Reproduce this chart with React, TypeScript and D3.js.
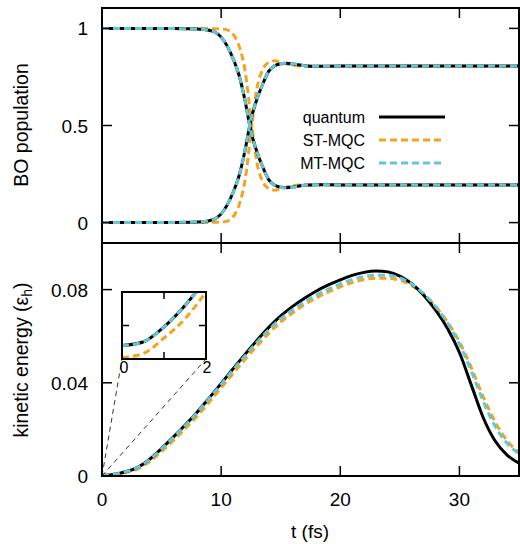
import React from "react";
import * as d3 from "d3";

// ---- Data ----
const popT = [0, 6, 8, 9, 9.5, 10, 10.5, 11, 11.5, 12, 12.5, 13, 13.5, 14, 14.5, 15, 15.5, 16, 17, 18, 20, 25, 30, 35];
const popQuantum = [0, 0.001, 0.003, 0.01, 0.02, 0.045, 0.09, 0.155, 0.24, 0.37, 0.53, 0.635, 0.715, 0.78, 0.808, 0.818, 0.82, 0.817, 0.808, 0.805, 0.806, 0.806, 0.806, 0.806];
const popMT = [0, 0.001, 0.003, 0.01, 0.02, 0.045, 0.09, 0.155, 0.24, 0.37, 0.53, 0.635, 0.715, 0.78, 0.809, 0.819, 0.821, 0.818, 0.808, 0.805, 0.806, 0.806, 0.806, 0.806];
const popST = [0, 0, 0.001, 0.001, 0.002, 0.003, 0.008, 0.03, 0.09, 0.215, 0.46, 0.69, 0.79, 0.825, 0.833, 0.826, 0.816, 0.81, 0.806, 0.805, 0.805, 0.805, 0.805, 0.805];

const keT = [0, 0.5, 1, 1.5, 2, 3, 4, 5, 6, 7, 8, 9, 10, 11, 12, 13, 14, 15, 16, 17, 18, 19, 20, 21, 22, 23, 24, 25, 26, 27, 28, 29, 30, 31, 32, 33, 34, 35];
const keQuantum = [0.0003, 0.00038, 0.00072, 0.0012, 0.0018, 0.0037, 0.0072, 0.0118, 0.0168, 0.022, 0.0275, 0.0335, 0.0397, 0.046, 0.0522, 0.0582, 0.0638, 0.0687, 0.0728, 0.0763, 0.0794, 0.082, 0.0842, 0.0861, 0.0874, 0.088, 0.0876, 0.0858, 0.0825, 0.0776, 0.0712, 0.0633, 0.053, 0.039, 0.025, 0.015, 0.009, 0.0055];
const keMT = [0.0003, 0.00038, 0.00072, 0.0012, 0.0018, 0.0037, 0.0071, 0.0116, 0.0166, 0.0218, 0.0273, 0.0333, 0.0394, 0.0456, 0.0516, 0.0574, 0.0628, 0.0675, 0.0713, 0.0747, 0.0777, 0.0802, 0.0825, 0.0843, 0.0856, 0.0862, 0.0861, 0.085, 0.0824, 0.0783, 0.0727, 0.0656, 0.0566, 0.045, 0.032, 0.0213, 0.014, 0.0095];
const keST = [0.00003, 0.00012, 0.00047, 0.0009, 0.0015, 0.003, 0.0062, 0.0105, 0.0153, 0.0204, 0.0258, 0.0317, 0.0378, 0.044, 0.05, 0.0558, 0.0612, 0.066, 0.07, 0.0735, 0.0765, 0.079, 0.0812, 0.083, 0.0843, 0.0849, 0.0849, 0.084, 0.0817, 0.078, 0.0728, 0.0661, 0.0576, 0.0465, 0.034, 0.0232, 0.0152, 0.01];

const xTicks = [0, 10, 20, 30];
const popTicks = [0, 0.5, 1];
const popTickLabels = ["0", "0.5", "1"];
const keTicks = [0, 0.04, 0.08];
const keTickLabels = ["0", "0.04", "0.08"];
const insetXTicks = [0, 1, 2];
const insetXLabels = ["0", "", "2"];
const legendLabels = ["quantum", "ST-MQC", "MT-MQC"];

const BLACK = "#000000";
const ORANGE = "#f5a31e";
const CYAN = "#62c8d8";
const FONT = "'Liberation Sans', Arial, Helvetica, sans-serif";

export default function App() {
  const L = 102, R = 519, T1 = 8, B1 = 243, B2 = 476;
  const x = d3.scaleLinear().domain([0, 35]).range([L, R]);
  const yTop = d3.scaleLinear().domain([-0.105, 1.105]).range([B1, T1]);
  const yBot = d3.scaleLinear().domain([0, 0.1]).range([B2, B1]);
  const xi = d3.scaleLinear().domain([0, 2]).range([122, 206]);
  const yi = d3.scaleLinear().domain([0, 0.0015]).range([359, 292]);

  const mk = (xs: d3.ScaleLinear<number, number>, ys: d3.ScaleLinear<number, number>, ts: number[], vs: number[]) =>
    d3.line<number>().x((_, i) => xs(ts[i])).y((v) => ys(v)).curve(d3.curveMonotoneX)(vs) || "";

  const popSeries = [
    { vals: popST, color: ORANGE, dash: "7,4" },
    { vals: popQuantum, color: BLACK, dash: null },
    { vals: popMT, color: CYAN, dash: "7,4" },
  ];
  const keSeries = [
    { vals: keST, color: ORANGE, dash: "7,4" },
    { vals: keQuantum, color: BLACK, dash: null },
    { vals: keMT, color: CYAN, dash: "7,4" },
  ];
  const legendColors = [BLACK, ORANGE, CYAN];
  const legendDash = [null, "7,4", "7,4"];
  const tl = 10;
  const fs = 19;

  return (
    <svg width={520} height={544} style={{ position: "absolute", left: 0, top: 0, background: "#fff" }} fontFamily={FONT}>
      <defs>
        <clipPath id="c1"><rect x={L} y={T1} width={R - L} height={B1 - T1} /></clipPath>
        <clipPath id="c2"><rect x={L} y={B1} width={R - L} height={B2 - B1} /></clipPath>
        <clipPath id="ci"><rect x={122} y={292} width={84} height={67} /></clipPath>
      </defs>

      {/* top panel curves */}
      <g clipPath="url(#c1)">
        {popSeries.map((s, k) => (
          <g key={k}>
            <path d={mk(x, yTop, popT, s.vals)} fill="none" stroke={s.color} strokeWidth={3} strokeDasharray={s.dash || undefined} />
            <path d={mk(x, yTop, popT, s.vals.map((v) => 1 - v))} fill="none" stroke={s.color} strokeWidth={3} strokeDasharray={s.dash || undefined} />
          </g>
        ))}
      </g>

      {/* bottom panel curves */}
      <g clipPath="url(#c2)">
        {keSeries.map((s, k) => (
          <path key={k} d={mk(x, yBot, keT, s.vals)} fill="none" stroke={s.color} strokeWidth={3} strokeDasharray={s.dash || undefined} />
        ))}
      </g>

      {/* frames */}
      <rect x={L} y={T1} width={R - L} height={B1 - T1} fill="none" stroke="#000" strokeWidth={2} />
      <rect x={L} y={B1} width={R - L} height={B2 - B1} fill="none" stroke="#000" strokeWidth={2} />

      {/* x ticks */}
      {xTicks.filter((t) => t > 0).map((t) => (
        <g key={t} stroke="#000" strokeWidth={1.5}>
          <line x1={x(t)} x2={x(t)} y1={T1} y2={T1 + tl} />
          <line x1={x(t)} x2={x(t)} y1={B1} y2={B1 - tl} />
          <line x1={x(t)} x2={x(t)} y1={B1} y2={B1 + tl} />
          <line x1={x(t)} x2={x(t)} y1={B2} y2={B2 - tl} />
        </g>
      ))}
      {xTicks.map((t) => (
        <text key={t} x={x(t)} y={506} fontSize={fs} textAnchor="middle">{t}</text>
      ))}

      {/* top y ticks */}
      {popTicks.map((v, i) => (
        <g key={v}>
          <line x1={L} x2={L + tl} y1={yTop(v)} y2={yTop(v)} stroke="#000" strokeWidth={1.5} />
          <line x1={R} x2={R - tl} y1={yTop(v)} y2={yTop(v)} stroke="#000" strokeWidth={1.5} />
          <text x={88} y={yTop(v) + 7} fontSize={fs} textAnchor="end">{popTickLabels[i]}</text>
        </g>
      ))}
      {/* bottom y ticks */}
      {keTicks.map((v, i) => (
        <g key={v}>
          {v > 0 && <line x1={L} x2={L + tl} y1={yBot(v)} y2={yBot(v)} stroke="#000" strokeWidth={1.5} />}
          {v > 0 && <line x1={R} x2={R - tl} y1={yBot(v)} y2={yBot(v)} stroke="#000" strokeWidth={1.5} />}
          <text x={88} y={yBot(v) + 7} fontSize={fs} textAnchor="end">{keTickLabels[i]}</text>
        </g>
      ))}

      {/* axis titles */}
      <text transform={`translate(28,125) rotate(-90)`} fontSize={fs + 0.5} textAnchor="middle">BO population</text>
      <text transform={`translate(28,360) rotate(-90)`} fontSize={fs + 0.5} textAnchor="middle">
        kinetic energy (ε<tspan fontSize={14} dy={4}>h</tspan><tspan dy={-4}>)</tspan>
      </text>
      <text x={310} y={538} fontSize={fs} textAnchor="middle">t (fs)</text>

      {/* legend */}
      {legendLabels.map((lab, i) => (
        <g key={lab}>
          <text x={365} y={123 + i * 23} fontSize={16} textAnchor="end">{lab}</text>
          <line x1={379} x2={445} y1={117 + i * 23} y2={117 + i * 23} stroke={legendColors[i]} strokeWidth={3} strokeDasharray={legendDash[i] || undefined} />
        </g>
      ))}

      {/* inset connectors */}
      <line x1={x(0)} y1={yBot(0)} x2={xi(0)} y2={yi(0)} stroke="#000" strokeWidth={0.8} strokeDasharray="5,4" />
      <line x1={x(0)} y1={yBot(0)} x2={xi(2)} y2={yi(0)} stroke="#000" strokeWidth={0.8} strokeDasharray="5,4" />

      {/* inset */}
      <rect x={122} y={292} width={84} height={67} fill="#fff" />
      <g clipPath="url(#ci)">
        {keSeries.map((s, k) => (
          <path key={k} d={mk(xi, yi, keT, s.vals)} fill="none" stroke={s.color} strokeWidth={3} strokeDasharray={s.dash || undefined} />
        ))}
      </g>
      <rect x={122} y={292} width={84} height={67} fill="none" stroke="#000" strokeWidth={2} />
      <g stroke="#000" strokeWidth={1.5}>
        <line x1={xi(1)} x2={xi(1)} y1={292} y2={299} />
        <line x1={xi(1)} x2={xi(1)} y1={359} y2={352} />
        <line x1={122} x2={129} y1={yi(0.00075)} y2={yi(0.00075)} />
        <line x1={206} x2={199} y1={yi(0.00075)} y2={yi(0.00075)} />
      </g>
      {insetXTicks.map((t, i) => (
        <text key={t} x={xi(t) + (i === 0 ? 2 : 1)} y={373} fontSize={16} textAnchor="middle">{insetXLabels[i]}</text>
      ))}
    </svg>
  );
}
